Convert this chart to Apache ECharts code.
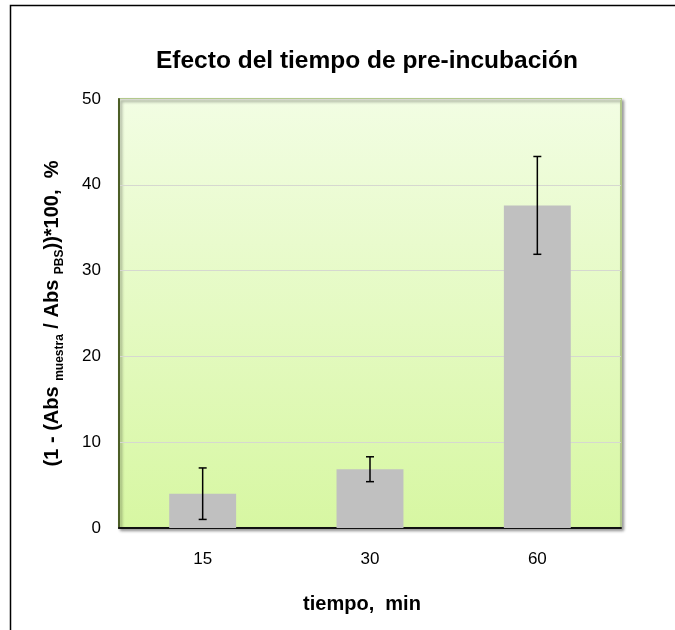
<!DOCTYPE html>
<html>
<head>
<meta charset="utf-8">
<script src="https://cdn.jsdelivr.net/npm/echarts@6/dist/echarts.min.js"></script>
<style>html,body{margin:0;padding:0;background:#fff}#c{width:675px;height:630px}</style>
</head>
<body>
<div id="c"></div>
<script>
const categories = ['15', '30', '60'];
const values = [4.0, 6.85, 37.6];
const errors = [3.0, 1.45, 5.7];
const yTicks = [0, 10, 20, 30, 40, 50];

const chart = echarts.init(document.getElementById('c'), null, {renderer: 'canvas'});
const errData = categories.map((c, i) => [i, values[i] - errors[i], values[i] + errors[i]]);
const FF = 'Liberation Sans, Arial';

chart.setOption({
  animation: false,
  backgroundColor: '#ffffff',
  title: {
    text: 'Efecto del tiempo de pre-incubación',
    left: 362, top: 44, textAlign: 'center',
    textStyle: {fontFamily: FF, fontWeight: 'bold', fontSize: 24.5, color: '#000'}
  },
  graphic: [{
    type: 'rect', silent: true, z: -10,
    shape: {x: 10.5, y: 5.5, width: 700, height: 700},
    style: {fill: 'none', stroke: '#000', lineWidth: 1.5}
  }],
  grid: {
    left: 119, right: 54, top: 99, bottom: 102,
    show: true,
    backgroundColor: new echarts.graphic.LinearGradient(0, 0, 0, 1, [
      {offset: 0, color: '#f2fde3'}, {offset: 1, color: '#d7f7a2'}
    ]),
    borderColor: '#b3c98c', borderWidth: 2,
    shadowColor: 'rgba(0,0,0,0.35)', shadowBlur: 3, shadowOffsetX: 2, shadowOffsetY: 2
  },
  xAxis: {
    type: 'category', data: categories,
    axisLine: {show: true, lineStyle: {color: '#111', width: 2}},
    axisTick: {show: false},
    axisLabel: {margin: 23, fontFamily: FF, fontSize: 17, color: '#000'},
    name: 'tiempo,  min', nameLocation: 'middle', nameGap: 66,
    nameTextStyle: {fontFamily: FF, fontWeight: 'bold', fontSize: 20, color: '#000', padding: [0, 16, 0, 0]}
  },
  yAxis: {
    type: 'value', min: 0, max: 50, interval: 10,
    axisLine: {show: true, lineStyle: {color: '#4c5e26', width: 2}},
    axisTick: {show: false},
    splitLine: {show: true, lineStyle: {color: '#d6d8d0', width: 1}},
    axisLabel: {margin: 18, fontFamily: FF, fontSize: 17, color: '#000',
      formatter: v => yTicks.includes(v) ? String(v) : ''},
    name: '{a|(1 - (Abs }{s|muestra}{a| / Abs }{s|PBS}{a|))*100,  %}',
    nameLocation: 'middle', nameRotate: 90, nameGap: 57,
    nameTextStyle: {
      rich: {
        a: {fontFamily: FF, fontWeight: 'bold', fontSize: 20, color: '#000', lineHeight: 24, verticalAlign: 'bottom'},
        s: {fontFamily: FF, fontWeight: 'bold', fontSize: 12, color: '#000', lineHeight: 24, verticalAlign: 'bottom', padding: [0, 0, -4, 0]}
      }
    }
  },
  series: [{
    type: 'bar', data: values, barWidth: '40%',
    itemStyle: {color: '#c0c0c0'}, z: 2
  }, {
    type: 'custom', z: 3,
    data: errData,
    renderItem: (params, api) => {
      const x = api.value(0);
      const lo = api.coord([x, api.value(1)]);
      const hi = api.coord([x, api.value(2)]);
      const w = 4;
      const st = {stroke: '#000', lineWidth: 1.5};
      return {type: 'group', children: [
        {type: 'line', shape: {x1: hi[0], y1: hi[1], x2: lo[0], y2: lo[1]}, style: st},
        {type: 'line', shape: {x1: hi[0]-w, y1: hi[1], x2: hi[0]+w, y2: hi[1]}, style: st},
        {type: 'line', shape: {x1: lo[0]-w, y1: lo[1], x2: lo[0]+w, y2: lo[1]}, style: st}
      ]};
    }
  }]
});
</script>
</body>
</html>
